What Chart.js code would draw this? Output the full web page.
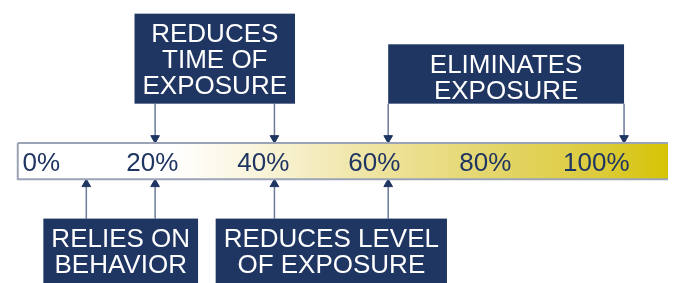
<!DOCTYPE html>
<html lang="en">
<head>
  <meta charset="UTF-8">
  <title>Exposure scale</title>
  <script src="https://cdn.jsdelivr.net/npm/chart.js"></script>
  <style>
    body { margin: 0; background: #fff; }
    canvas { display: block; }
  </style>
</head>
<body>
  <canvas id="escala" width="674" height="283"></canvas>

  <script>
    // percent labels printed inside the band
    const tickValues = [0, 20, 40, 60, 80, 100];
    const tickLabels = ['0%', '20%', '40%', '60%', '80%', '100%'];

    // each box points at two spots of the scale (start / end, in %)
    const categories = [
      ['REDUCES', 'TIME OF', 'EXPOSURE'],
      ['ELIMINATES', 'EXPOSURE'],
      ['RELIES ON', 'BEHAVIOR'],
      ['REDUCES LEVEL', 'OF EXPOSURE']
    ];
    const rangeStart = [20.5, 62.5, 8.1, 42.0];
    const rangeEnd = [42.0, 105.0, 20.5, 62.5];
    const side = ['top', 'top', 'bottom', 'bottom'];

    // layout (y axis is in px, running top -> bottom)
    const xMin = -6.37, xMax = 112.92;
    const bandLeft = -4.25, bandRight = 125;
    const bandTop = 143, bandBottom = 181;
    const boxTop = [8, 40, 222, 222];
    const boxBottom = [102, 102, 290, 290];
    const headSize = 5;

    const navy = '#1f3562';
    const font = '26px "Liberation Sans", Arial, sans-serif';

    function bandGradient(context) {
      const chart = context.chart;
      if (!chart.chartArea) return null;
      const w = chart.width;
      const g = chart.ctx.createLinearGradient(0, 0, w, 0);
      g.addColorStop(0, '#ffffff');
      g.addColorStop(170 / w, '#ffffff');
      g.addColorStop(260 / w, '#f9f4da');
      g.addColorStop(380 / w, '#eee39e');
      g.addColorStop(490 / w, '#e4d66c');
      g.addColorStop(600 / w, '#dccb3a');
      g.addColorStop(1, '#d5c300');
      return g;
    }

    let datasets = [{
      label: 'band',
      data: [
        { x: bandLeft, y: bandTop },
        { x: bandRight, y: bandTop },
        { x: bandRight, y: bandBottom },
        { x: bandLeft, y: bandBottom },
        { x: bandLeft, y: bandTop }
      ],
      showLine: true,
      fill: 'shape',
      backgroundColor: bandGradient,
      borderColor: '#9ba4b6',
      borderWidth: 2,
      pointRadius: 0
    }];

    categories.forEach((cat, i) => {
      [rangeStart[i], rangeEnd[i]].forEach(x => {
        let top = side[i] === 'top';
        datasets.push({
          label: cat.join(' '),
          data: top
            ? [{ x: x, y: boxBottom[i] }, { x: x, y: bandTop - headSize }]
            : [{ x: x, y: boxTop[i] }, { x: x, y: bandBottom + headSize }],
          showLine: true,
          borderColor: '#6b7a99',
          borderWidth: 1.5,
          pointRadius: [0, headSize],
          pointHoverRadius: 0,
          pointStyle: 'triangle',
          rotation: top ? 180 : 0,
          pointBackgroundColor: navy,
          pointBorderColor: navy,
          pointBorderWidth: 1
        });
      });
    });

    // boxes with captions + percent labels, placed through the scales
    const textPlugin = {
      id: 'textos',
      afterDatasetsDraw(chart) {
        const ctx = chart.ctx;
        const xs = chart.scales.x, ys = chart.scales.y;
        ctx.save();
        ctx.font = font;
        ctx.textAlign = 'center';
        ctx.textBaseline = 'alphabetic';

        tickValues.forEach((v, i) => {
          ctx.fillStyle = navy;
          ctx.fillText(tickLabels[i], xs.getPixelForValue(v), ys.getPixelForValue(172));
        });

        categories.forEach((lines, i) => {
          let x0 = xs.getPixelForValue(rangeStart[i]);
          let x1 = xs.getPixelForValue(rangeEnd[i]);
          let cx = (x0 + x1) / 2;
          let textW = Math.max(...lines.map(l => ctx.measureText(l).width));
          let w = Math.max(x1 - x0, textW + 16);
          let top = ys.getPixelForValue(boxTop[i]);
          let bottom = ys.getPixelForValue(boxBottom[i]);
          ctx.fillStyle = navy;
          ctx.fillRect(cx - w / 2, top, w, bottom - top);
          ctx.fillStyle = '#ffffff';
          lines.forEach((l, k) => {
            ctx.fillText(l, cx, top + 28.5 + k * 26);
          });
        });
        ctx.restore();
      }
    };

    new Chart(document.getElementById('escala'), {
      type: 'scatter',
      data: { datasets: datasets },
      options: {
        responsive: false,
        animation: false,
        devicePixelRatio: 1,
        layout: { padding: 0 },
        scales: {
          x: { type: 'linear', min: xMin, max: xMax, display: false },
          y: { type: 'linear', min: 0, max: 283, reverse: true, display: false }
        },
        plugins: {
          legend: { display: false },
          tooltip: { enabled: false }
        }
      },
      plugins: [textPlugin]
    });
  </script>
</body>
</html>
